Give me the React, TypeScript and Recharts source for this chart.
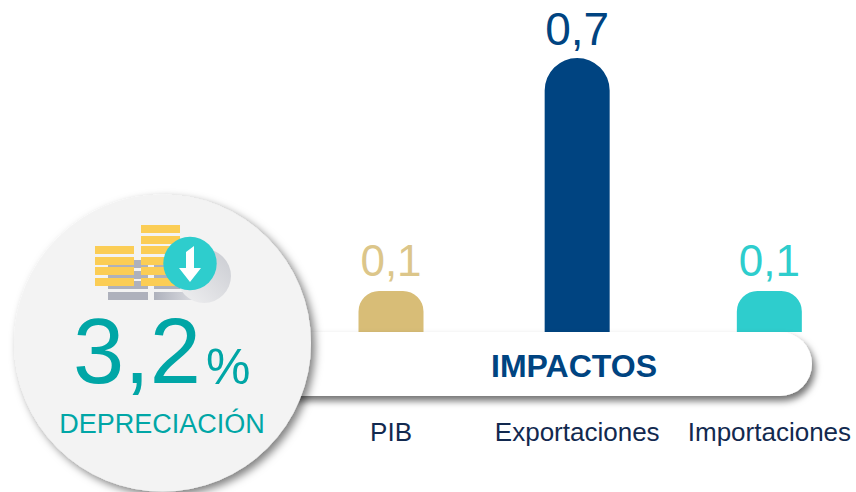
import React from "react";
import { BarChart, Bar, XAxis, YAxis, Rectangle, LabelList } from "recharts";

const categories = ["PIB", "Exportaciones", "Importaciones"];
const values = [0.105, 0.7, 0.105];
const labels = ["0,1", "0,7", "0,1"];
const barColors = ["#D8BD77", "#004481", "#2ECDCD"];
const labelColors = ["#DCC68A", "#004481", "#2ECDCD"];
const rows = categories.map((name, i) => ({ name, value: values[i], label: labels[i] }));

const nudge = [0, -3, 0];
const FONT = "'Liberation Sans', Arial, sans-serif";
const TEAL = "#00A6A6";

const BarShape = (p: any) => (
  <Rectangle
    x={p.x + nudge[p.index]}
    y={p.y}
    width={p.width}
    height={p.height}
    fill={barColors[p.index]}
    radius={[32.5, 32.5, 0, 0]}
  />
);

const BarLabel = (p: any) => (
  <text
    x={p.x + p.width / 2 + nudge[p.index]}
    y={p.y - (p.index === 1 ? 13 : 15)}
    textAnchor="middle"
    fontFamily={FONT}
    fontSize={p.index === 1 ? 46 : 44}
    fill={labelColors[p.index]}
  >
    {labels[p.index]}
  </text>
);

const Tick = (p: any) => (
  <text x={p.x + nudge[p.index]} y={441} textAnchor="middle" fontFamily={FONT} fontSize={26} fill="#12294F">
    {p.payload.value}
  </text>
);

const goldLeft = [246, 257, 267, 278];
const goldRight = [225, 236, 246, 257, 267, 278];
const grayRows = [260, 271, 281];

const Overlay = () => (
  <svg width={856} height={492} style={{ position: "absolute", left: 0, top: 0 }}>
    <defs>
      <filter id="pillShadow" x="-10%" y="-30%" width="120%" height="170%">
        <feDropShadow dx="3" dy="5" stdDeviation="3.5" floodColor="#000" floodOpacity="0.55" />
      </filter>
      <filter id="circleShadow" x="-10%" y="-10%" width="125%" height="125%">
        <feDropShadow dx="4" dy="4" stdDeviation="4" floodColor="#000" floodOpacity="0.5" />
      </filter>
      <linearGradient id="coinShade" x1="0" y1="0" x2="1" y2="0">
        <stop offset="0" stopColor="#AEB1BC" />
        <stop offset="1" stopColor="#E6E7EA" />
      </linearGradient>
      <linearGradient id="discShade" x1="1" y1="0" x2="0" y2="1">
        <stop offset="0" stopColor="#C9CBD1" />
        <stop offset="1" stopColor="#F1F1F2" />
      </linearGradient>
    </defs>
    <rect x={200} y={332} width={612} height={64} rx={32} fill="#FFFFFF" filter="url(#pillShadow)" />
    <text x={574} y={377} textAnchor="middle" fontFamily={FONT} fontWeight="bold" fontSize={32} fill="#004481">
      IMPACTOS
    </text>
    <circle cx={162.5} cy={343} r={148.5} fill="#F3F3F3" filter="url(#circleShadow)" />
    {grayRows.map((y) => (
      <g key={y}>
        <rect x={108} y={y} width={40} height={8} fill="#AEB1BC" />
        <rect x={154} y={y} width={30} height={8} fill="#AEB1BC" />
      </g>
    ))}
    <rect x={108} y={292} width={40} height={8} fill="#AEB1BC" />
    <rect x={154} y={292} width={50} height={8} fill="url(#coinShade)" />
    {goldLeft.map((y) => (
      <rect key={y} x={95} y={y} width={39} height={8} fill="#FBCD55" />
    ))}
    {goldRight.map((y) => (
      <rect key={y} x={141} y={y} width={39} height={8} fill="#FBCD55" />
    ))}
    <circle cx={204} cy={276} r={27} fill="url(#discShade)" />
    <circle cx={190} cy={263.5} r={26.7} fill="#2ECDCD" />
    <path d="M194 246 L194 268 L201 268 L190 282 L179 268 L186 268 L186 252 Z" fill="#FFFFFF" />
    <text x={73} y={383} fontFamily={FONT} fontSize={92} fill={TEAL}>
      3,2
    </text>
    <text x={206} y={384} fontFamily={FONT} fontSize={50} fill={TEAL}>
      %
    </text>
    <text x={162} y={433} textAnchor="middle" fontFamily={FONT} fontSize={27} fill={TEAL}>
      DEPRECIACIÓN
    </text>
  </svg>
);

export default function App() {
  return (
    <div style={{ position: "absolute", left: 0, top: 0, width: 856, height: 492, overflow: "hidden", background: "#FFFFFF" }}>
      <div style={{ position: "absolute", left: 0, top: 0 }}>
        <BarChart
          width={864}
          height={492}
          data={rows}
          margin={{ top: 58, right: 0, bottom: 0, left: 296.5 }}
        >
          <XAxis dataKey="name" height={160} axisLine={false} tickLine={false} tick={<Tick />} interval={0} />
          <YAxis hide width={0} domain={[0, 0.7]} />
          <Bar dataKey="value" barSize={65} isAnimationActive={false} shape={<BarShape />}>
            <LabelList dataKey="value" content={<BarLabel />} />
          </Bar>
        </BarChart>
      </div>
      <Overlay />
    </div>
  );
}
